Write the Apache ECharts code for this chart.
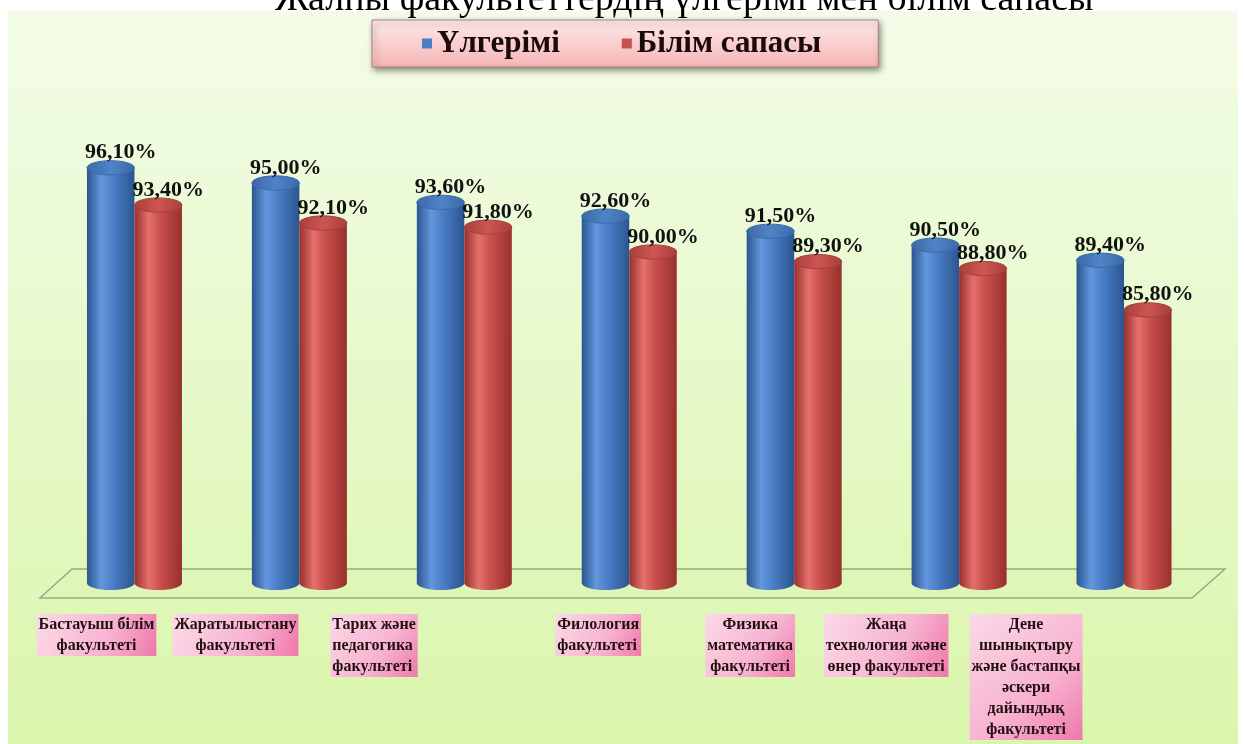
<!DOCTYPE html>
<html>
<head>
<meta charset="utf-8">
<script src="https://cdn.jsdelivr.net/npm/echarts@6/dist/echarts.min.js"></script>
<style>
html,body{margin:0;padding:0;background:#fff;}
#main{width:1244px;height:744px;}
</style>
</head>
<body>
<div id="main"></div>
<script>
// ---- data ----
const titleText = 'Жалпы факультеттердің үлгерімі мен білім сапасы';
const seriesNames = ['Үлгерімі', 'Білім сапасы'];
const categories = [
  'Бастауыш білім\nфакультеті',
  'Жаратылыстану\nфакультеті',
  'Тарих және\nпедагогика\nфакультеті',
  'Филология\nфакультеті',
  'Физика\nматематика\nфакультеті',
  'Жаңа\nтехнология және\nөнер факультеті',
  'Дене\nшынықтыру\nжәне бастапқы\nәскери\nдайындық\nфакультеті'
];
const ulgerimi = [96.1, 95.0, 93.6, 92.6, 91.5, 90.5, 89.4];
const bilimSapasy = [93.4, 92.1, 91.8, 90.0, 89.3, 88.8, 85.8];

// ---- layout / style (not data) ----
const Y_MIN = 66, Y_MAX = 100;
const labelShift = [-38, -64, -134, -74, -44, -73, -98];
const labelAlign = ['center', 'center', 'left', 'left', 'center', 'center', 'center'];
const serif = '"Liberation Serif", "DejaVu Serif", serif';

const palettes = [
  {dark: '#2b5590', light: '#6396dc', mid: '#4a7ec6', top: '#4f83c9', rim: '#3b69a6'},
  {dark: '#98302d', light: '#e5706b', mid: '#c8504c', top: '#cd5652', rim: '#a83f3b'}
];

function fmt(v) { return v.toFixed(2).replace('.', ',') + '%'; }

function cylinderRenderer(side, pal) {
  return function (params, api) {
    const idx = api.value(0), val = api.value(1);
    const top = api.coord([idx, val]);
    const base = api.coord([idx, Y_MIN]);
    const band = api.size([1, 0])[0];
    const w = band * 0.288;
    const cx = top[0] + side * w / 2;
    const ry = w * 0.15;
    const body = new echarts.graphic.LinearGradient(0, 0, 1, 0, [
      {offset: 0, color: pal.dark},
      {offset: 0.3, color: pal.light},
      {offset: 0.55, color: pal.mid},
      {offset: 1, color: pal.dark}
    ]);
    return {
      type: 'group',
      children: [
        {type: 'ellipse', shape: {cx: cx, cy: base[1], rx: w / 2, ry: ry}, style: {fill: body}},
        {type: 'rect', shape: {x: cx - w / 2, y: top[1], width: w, height: base[1] - top[1]}, style: {fill: body}},
        {type: 'ellipse', shape: {cx: cx, cy: top[1], rx: w / 2, ry: ry},
          style: {fill: new echarts.graphic.LinearGradient(0, 0, 1, 0, [
            {offset: 0, color: pal.rim}, {offset: 0.5, color: pal.top}, {offset: 1, color: pal.rim}
          ]), stroke: pal.rim, lineWidth: 1}},
        {type: 'text', x: cx + 10, y: top[1] - ry + 3,
          style: {text: fmt(val), fill: '#111', font: 'bold 22px ' + serif, align: 'center', verticalAlign: 'bottom'}}
      ]
    };
  };
}

function labelRenderer(params, api) {
  const idx = api.value(0);
  const base = api.coord([idx, Y_MIN]);
  return {
    type: 'text',
    x: base[0] + labelShift[idx],
    y: base[1] + 31,
    style: {
      text: categories[idx],
      font: 'bold 16px ' + serif,
      lineHeight: 21,
      fill: '#241010',
      align: labelAlign[idx],
      verticalAlign: 'top',
      padding: [0, 2, 0, 2],
      backgroundColor: new echarts.graphic.LinearGradient(0, 0, 1, 1, [
        {offset: 0, color: '#fbd9e8'},
        {offset: 0.6, color: '#f7b3d0'},
        {offset: 1, color: '#ef78ac'}
      ])
    }
  };
}

const chart = echarts.init(document.getElementById('main'), null, {renderer: 'canvas'});
chart.setOption({
  backgroundColor: '#ffffff',
  animation: false,
  title: {
    text: titleText, left: 270, top: -24,
    textStyle: {fontFamily: serif, fontSize: 38, fontWeight: 'normal', color: '#000'}
  },
  legend: {
    data: seriesNames,
    left: 372, top: 20,
    padding: [8, 57, 8, 50],
    itemWidth: 10, itemHeight: 10, itemGap: 62,
    icon: 'rect',
    backgroundColor: new echarts.graphic.LinearGradient(0, 0, 0, 1, [
      {offset: 0, color: '#fdeaea'}, {offset: 1, color: '#f6b4b4'}
    ]),
    borderColor: '#a88080', borderWidth: 1,
    shadowBlur: 6, shadowColor: 'rgba(0,0,0,0.45)', shadowOffsetX: 2, shadowOffsetY: 3,
    textStyle: {fontFamily: serif, fontSize: 31, fontWeight: 'bold', color: '#1a0a0a'}
  },
  graphic: [
    {type: 'rect', z: -10, silent: true, shape: {x: 8, y: 11, width: 1230, height: 733},
      style: {fill: new echarts.graphic.LinearGradient(0, 0, 0, 1, [
        {offset: 0, color: '#f3fce8'}, {offset: 1, color: '#daf6ac'}
      ])}},
    {type: 'polygon', z: -5, silent: true,
      shape: {points: [[72, 569], [1225, 569], [1192, 598], [40, 598]]},
      style: {fill: 'rgba(220,245,180,0.4)', stroke: '#98ab88', lineWidth: 1.5}}
  ],
  grid: {left: 52, right: 37.5, top: 114, bottom: 161},
  xAxis: {type: 'category', data: categories, show: false},
  yAxis: {type: 'value', min: Y_MIN, max: Y_MAX, show: false},
  series: [
    {name: seriesNames[0], type: 'custom', itemStyle: {color: '#4a7ec6'},
      renderItem: cylinderRenderer(-1, palettes[0]),
      data: ulgerimi.map((v, i) => [i, v])},
    {name: seriesNames[1], type: 'custom', itemStyle: {color: '#c8504c'},
      renderItem: cylinderRenderer(1, palettes[1]),
      data: bilimSapasy.map((v, i) => [i, v])},
    {name: 'labels', type: 'custom', silent: true,
      renderItem: labelRenderer,
      data: categories.map((c, i) => [i, Y_MIN])}
  ]
});
</script>
</body>
</html>
